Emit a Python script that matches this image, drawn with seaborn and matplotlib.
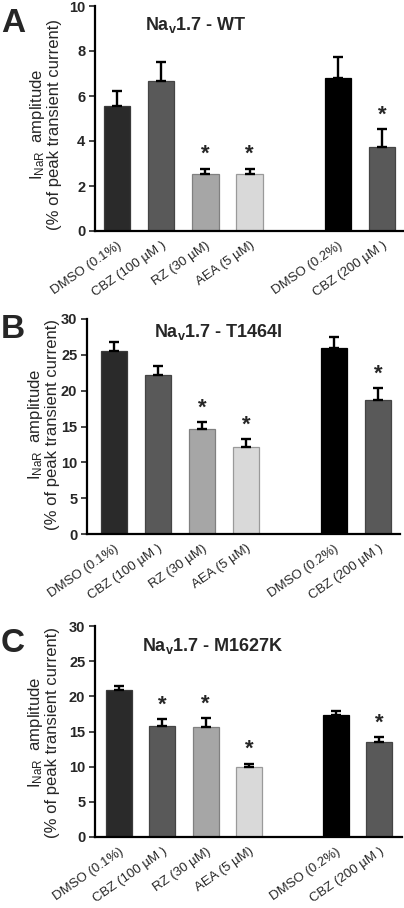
import numpy as np
import pandas as pd
import matplotlib
matplotlib.use("Agg")
import matplotlib.pyplot as plt
import seaborn as sns

sns.set_style("white")
plt.rcParams['font.family'] = ['Liberation Sans', 'DejaVu Sans']
plt.rcParams['mathtext.default'] = 'regular'

# categories (blank slot between the two groups)
conds = ["DMSO (0.1%)", "CBZ (100 \u00b5M )", "RZ (30 \u00b5M)", "AEA (5 \u00b5M)",
         "DMSO (0.2%)", "CBZ (200 \u00b5M )"]
order = conds[:4] + [" "] + conds[4:]
colors = ["#2a2a2a", "#595959", "#a6a6a6", "#d9d9d9", "#000000", "#595959"]
edges = ["#3a3a3a", "#444444", "#808080", "#9a9a9a", "#000000", "#444444"]

# panel A: Nav1.7 - WT
wt_mean = [5.57, 6.65, 2.52, 2.53, 6.8, 3.73]
wt_sem = [0.67, 0.85, 0.25, 0.24, 0.95, 0.8]
wt_sig = [False, False, True, True, False, True]

# panel B: Nav1.7 - T1464I
t_mean = [25.6, 22.25, 14.6, 12.1, 25.9, 18.7]
t_sem = [1.25, 1.25, 1.05, 1.15, 1.6, 1.7]
t_sig = [False, False, True, True, False, True]

# panel C: Nav1.7 - M1627K
m_mean = [20.9, 15.8, 15.66, 10.0, 17.3, 13.5]
m_sem = [0.55, 1.0, 1.2, 0.45, 0.65, 0.7]
m_sig = [False, True, True, True, False, True]

panels = [
    ("A", r"Na$_v$1.7 - WT", wt_mean, wt_sem, wt_sig, 10, [0, 2, 4, 6, 8, 10],
     [95/404, 1 - 231/908, 309/404, 225/908], (-0.5, 6.5), 196/404, 25, 62, 124),
    ("B", r"Na$_v$1.7 - T1464I", t_mean, t_sem, t_sig, 30, [0, 5, 10, 15, 20, 25, 30],
     [87/404, 1 - 534/908, 313/404, 215/908], (-0.61, 6.5), 218/404, 332, 60, 424),
    ("C", r"Na$_v$1.7 - M1627K", m_mean, m_sem, m_sig, 30, [0, 5, 10, 15, 20, 25, 30],
     [95/404, 1 - 837/908, 307/404, 211/908], (-0.55, 6.52), 213/404, 646, 60, 732),
]

fig = plt.figure(figsize=(4.04, 9.08), dpi=100)

for letter, title, mean, sem, sig, ymax, yticks, rect, xl, tx, ty, lx, ly in panels:
    ax = fig.add_axes(rect)
    df = pd.DataFrame({"cond": conds, "val": mean})
    sns.barplot(data=df, x="cond", y="val", hue="cond", order=order,
                palette=dict(zip(conds, colors)), width=0.6, legend=False,
                linewidth=0.9, ax=ax)
    for p, c in zip(ax.patches, edges):
        p.set_edgecolor(c)
    xs = np.array([order.index(c) for c in conds])
    ax.errorbar(xs, mean, yerr=[np.zeros(len(sem)), sem], fmt="none",
                ecolor="black", elinewidth=1.7, capsize=3.5, capthick=1.7, zorder=3)
    for x, m, s, g in zip(xs, mean, sem, sig):
        if g:
            ax.annotate("*", (x, m + s), xytext=(0, 2.5), textcoords="offset points",
                        ha="center", va="bottom", fontsize=16, fontweight="bold")
    ax.set_xlim(*xl)
    ax.set_ylim(0, ymax)
    ax.set_yticks(yticks)
    ax.set_yticklabels([str(t) for t in yticks], fontsize=10.5, fontweight="bold")
    ax.set_xticks(range(len(order)))
    ax.set_xticklabels(order, rotation=35, ha="right", rotation_mode="anchor", fontsize=9.5)
    ax.tick_params(axis="x", length=0, pad=6)
    ax.tick_params(axis="y", direction="out", length=4, width=1.2, left=True, pad=3)
    ax.set_xlabel("")
    ax.set_ylabel("I$_{NaR}$  amplitude\n(% of peak transient current)", fontsize=12,
                  linespacing=1.0)
    ax.yaxis.set_label_coords(lx / 404, 1 - ly / 908, transform=fig.transFigure)
    for s in ["top", "right"]:
        ax.spines[s].set_visible(False)
    for s in ["left", "bottom"]:
        ax.spines[s].set_linewidth(1.6)
        ax.spines[s].set_color("black")
    fig.text(tx, 1 - ty / 908, title, ha="center", va="center", fontsize=13,
             fontweight="bold")
    fig.text(1 / 404, 1 - (ty - 2) / 908, letter, ha="left", va="center",
             fontsize=24, fontweight="bold")

fig.savefig("out.png", dpi=100)
